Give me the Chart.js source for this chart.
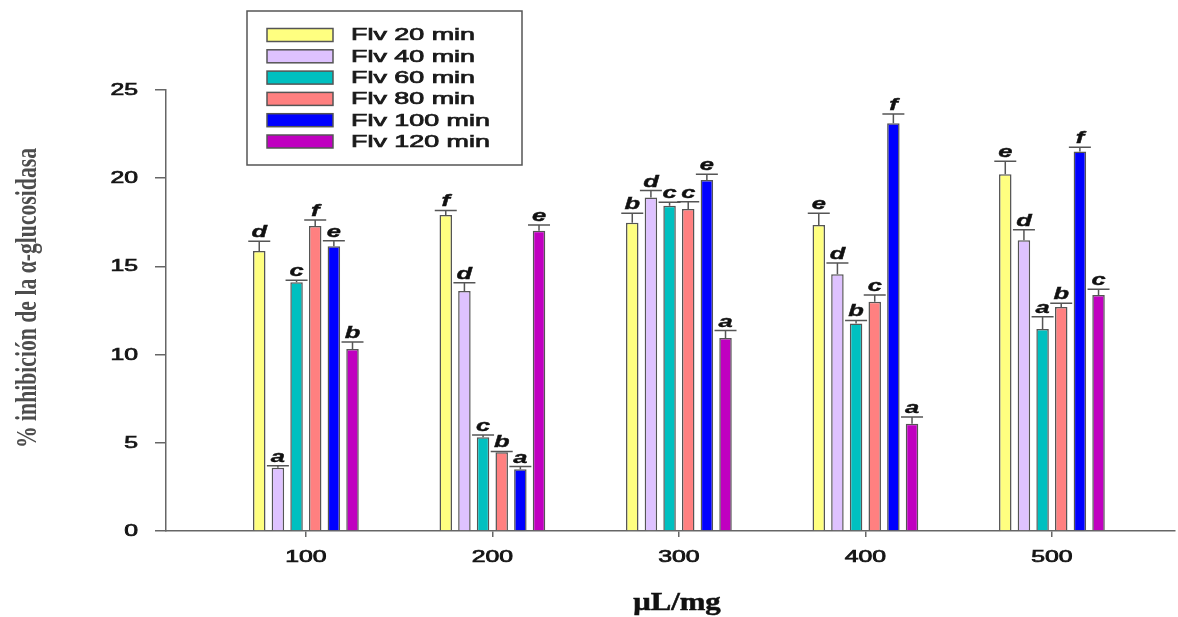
<!DOCTYPE html>
<html>
<head>
<meta charset="utf-8">
<title>Inhibición de α-glucosidasa</title>
<script src="https://cdn.jsdelivr.net/npm/chart.js@4/dist/chart.umd.min.js"></script>
<style>
  html, body { margin: 0; padding: 0; background: #fff; }
  #chart { display: block; }
</style>
</head>
<body>
<canvas id="chart" width="1178" height="617"></canvas>
<script>
// doses on the x axis
const doses = [100, 200, 300, 400, 500];
const seriesLabels = ['Flv 20 min', 'Flv 40 min', 'Flv 60 min', 'Flv 80 min', 'Flv 100 min', 'Flv 120 min'];
const seriesColors = ['#FFFF80', '#DEC2FF', '#00C0C0', '#FF8080', '#0000FF', '#C000C0'];

// % inhibition
const flv20 = [15.87, 17.91, 17.48, 17.35, 20.22];
const flv40 = [3.59, 13.60, 18.90, 14.55, 16.48];
const flv60 = [14.10, 5.31, 18.44, 11.77, 11.45];
const flv80 = [17.29, 4.46, 18.25, 13.00, 12.70];
const flv100 = [16.14, 3.50, 19.90, 23.11, 21.52];
const flv120 = [10.32, 17.02, 10.94, 6.08, 13.38];

// error bars (upper only)
const err20 = [0.55, 0.26, 0.53, 0.66, 0.74];
const err40 = [0.11, 0.47, 0.40, 0.64, 0.60];
const err60 = [0.11, 0.13, 0.19, 0.17, 0.70];
const err80 = [0.34, 0.05, 0.42, 0.38, 0.21];
const err100 = [0.32, 0.15, 0.32, 0.53, 0.24];
const err120 = [0.40, 0.32, 0.42, 0.38, 0.32];

// significance letters
const let20 = ['d', 'f', 'b', 'e', 'e'];
const let40 = ['a', 'd', 'd', 'd', 'd'];
const let60 = ['c', 'c', 'c', 'b', 'a'];
const let80 = ['f', 'b', 'c', 'c', 'b'];
const let100 = ['e', 'a', 'e', 'f', 'f'];
const let120 = ['b', 'e', 'a', 'a', 'c'];

const yTicks = [0, 5, 10, 15, 20, 25];

const allValues = [flv20, flv40, flv60, flv80, flv100, flv120];
const allErrors = [err20, err40, err60, err80, err100, err120];
const allLetters = [let20, let40, let60, let80, let100, let120];

const SANS = '"Liberation Sans", Arial, sans-serif';
const SERIF = '"Liberation Serif", "Times New Roman", serif';

const datasets = seriesLabels.map((label, i) => ({
    label: label,
    data: doses.map((d, j) => ({ x: d, y: allValues[i][j] })),
    errors: allErrors[i],
    letters: allLetters[i],
    backgroundColor: seriesColors[i],
    borderColor: '#555',
    borderWidth: 1.5,
    borderSkipped: 'bottom'
}));

// the original figure's text is stretched sideways, so draw it widened
function drawWide(ctx, text, x, y, sx, align, heavy) {
    ctx.save();
    ctx.translate(x, y);
    ctx.scale(sx, 1);
    ctx.textAlign = align;
    ctx.fillText(text, 0, 0);
    if (heavy) {
        ctx.strokeStyle = ctx.fillStyle;
        ctx.lineWidth = heavy;
        ctx.strokeText(text, 0, 0);
    }
    ctx.restore();
}

// error bars + letters above them
const errorBarPlugin = {
    id: 'errorBars',
    afterDatasetsDraw(chart) {
        const ctx = chart.ctx;
        const yScale = chart.scales.y;
        ctx.save();
        chart.data.datasets.forEach((ds, i) => {
            const meta = chart.getDatasetMeta(i);
            meta.data.forEach((bar, j) => {
                const v = ds.data[j].y;
                const yTop = yScale.getPixelForValue(v + ds.errors[j]);
                ctx.strokeStyle = '#555';
                ctx.lineWidth = 1.5;
                ctx.beginPath();
                ctx.moveTo(bar.x, bar.y);
                ctx.lineTo(bar.x, yTop);
                ctx.moveTo(bar.x - 11, yTop);
                ctx.lineTo(bar.x + 11, yTop);
                ctx.stroke();

                ctx.fillStyle = '#111';
                ctx.font = 'italic bold 17px ' + SANS;
                ctx.textBaseline = 'alphabetic';
                drawWide(ctx, ds.letters[j], bar.x, yTop - 4, 1.5, 'center', 0.4);
            });
        });
        ctx.restore();
    }
};

// tick labels, boxed legend and the y title
const decorPlugin = {
    id: 'decor',
    afterDraw(chart) {
        const ctx = chart.ctx;
        const xScale = chart.scales.x;
        const yScale = chart.scales.y;
        ctx.save();

        // tick labels
        ctx.fillStyle = '#151515';
        ctx.font = '16px ' + SANS;
        ctx.textBaseline = 'middle';
        yTicks.forEach(v => drawWide(ctx, String(v), 138, yScale.getPixelForValue(v) + 0.5, 1.55, 'right', 0.7));
        doses.forEach(d => drawWide(ctx, String(d), xScale.getPixelForValue(d), 557.5, 1.55, 'center', 0.7));

        // x title
        ctx.fillStyle = '#111';
        ctx.font = 'bold 25px ' + SERIF;
        ctx.textBaseline = 'alphabetic';
        drawWide(ctx, 'μL/mg', 677, 610, 1.23, 'center', 0.5);

        // legend box
        ctx.strokeStyle = '#555';
        ctx.lineWidth = 1.5;
        ctx.strokeRect(247, 11, 275, 154);
        chart.data.datasets.forEach((ds, i) => {
            const cy = 35 + i * 21.3;
            ctx.fillStyle = ds.backgroundColor;
            ctx.fillRect(267, cy - 6.5, 66, 13);
            ctx.strokeStyle = '#555';
            ctx.lineWidth = 1.5;
            ctx.strokeRect(267, cy - 6.5, 66, 13);
            ctx.fillStyle = '#1a1a1a';
            ctx.font = '16px ' + SANS;
            ctx.textBaseline = 'middle';
            drawWide(ctx, ds.label, 351, cy + 1, 1.68, 'left', 0.7);
        });

        // y axis title, tall narrow serif
        const title = '% inhibición de la α-glucosidasa';
        ctx.font = 'bold 29px ' + SERIF;
        const w = ctx.measureText(title).width;
        ctx.translate(29, 298);
        ctx.rotate(-Math.PI / 2);
        ctx.scale(300 / w, 1);
        ctx.fillStyle = '#4d4d4d';
        ctx.textAlign = 'center';
        ctx.textBaseline = 'middle';
        ctx.fillText(title, 0, 0);
        ctx.restore();
    }
};

const ctx = document.getElementById('chart').getContext('2d');
const chart = new Chart(ctx, {
    type: 'bar',
    data: { datasets: datasets },
    options: {
        responsive: false,
        animation: false,
        devicePixelRatio: 1,
        categoryPercentage: 0.6,
        barPercentage: 0.67,
        layout: { padding: { left: 0, right: 3, top: 90, bottom: 0 } },
        plugins: {
            legend: { display: false },
            tooltip: { enabled: false }
        },
        scales: {
            x: {
                type: 'linear',
                min: 25,
                max: 566,
                offset: false,
                afterBuildTicks: (scale) => { scale.ticks = doses.map(d => ({ value: d })); },
                afterFit: (scale) => { scale.height = 86; },
                grid: {
                    offset: false,
                    drawOnChartArea: false,
                    drawTicks: true,
                    tickLength: 6,
                    color: '#666',
                    lineWidth: 1.5
                },
                border: { display: true, color: '#666', width: 1.5 },
                ticks: {
                    color: 'rgba(0,0,0,0)',
                    font: { family: SANS, size: 16 },
                    padding: 15,
                    maxRotation: 0
                }
            },
            y: {
                min: 0,
                max: 25,
                afterBuildTicks: (scale) => { scale.ticks = yTicks.map(v => ({ value: v })); },
                afterFit: (scale) => { scale.width = 166; },
                grid: {
                    drawOnChartArea: false,
                    drawTicks: true,
                    tickLength: 11,
                    color: '#666',
                    lineWidth: 1.5
                },
                border: { display: true, color: '#666', width: 1.5 },
                ticks: {
                    color: 'rgba(0,0,0,0)',
                    font: { family: SANS, size: 16 },
                    padding: 17
                }
            }
        }
    },
    plugins: [errorBarPlugin, decorPlugin]
});
</script>
</body>
</html>
